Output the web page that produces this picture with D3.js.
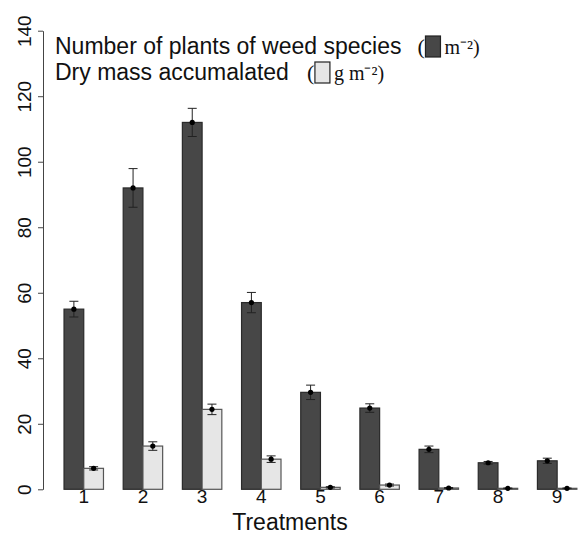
<!DOCTYPE html>
<html><head><meta charset="utf-8">
<script src="https://cdn.jsdelivr.net/npm/d3@7"></script>
<style>body{margin:0;background:#fff}svg{display:block}</style>
</head><body>
<script>
const treatments = ["1","2","3","4","5","6","7","8","9"];
const seriesNames = ["plants","dryMass"];
const plants = [55, 92, 112, 57, 29.6, 24.8, 12.2, 8.1, 8.7];
const plantsErr = [2.4, 5.9, 4.3, 3.1, 2.2, 1.3, 1.0, 0.4, 0.8];
const dryMass = [6.4, 13.2, 24.4, 9.2, 0.6, 1.3, 0.4, 0.3, 0.3];
const dryMassErr = [0.5, 1.3, 1.6, 1.0, 0.2, 0.3, 0.15, 0.1, 0.1];
const yTicks = [0, 20, 40, 60, 80, 100, 120, 140];
const legendLabels = ["Number of plants of weed species", "Dry mass accumalated"];
const legendUnits = ["m\u207B\u00B2)", "g m\u207B\u00B2)"];

const W = 578, H = 535;
const colors = {plants: "#474747", dryMass: "#e6e6e6"};
const strokes = {plants: "#2a2a2a", dryMass: "#555"};

const svg = d3.select("body").append("svg").attr("width", W).attr("height", H);

const x = d3.scaleBand().domain(treatments).range([44.3, 596.6]).paddingInner(1/3).paddingOuter(1/3);
const xs = d3.scaleBand().domain(seriesNames).range([0, x.bandwidth()]);
const y = d3.scaleLinear().domain([0, 140]).range([489.3, 30.7]);

const data = treatments.map((t, i) => ({
  t,
  vals: [
    {s: "plants", v: plants[i], e: plantsErr[i]},
    {s: "dryMass", v: dryMass[i], e: dryMassErr[i]}
  ]
}));

const g = svg.append("g");
const groups = g.selectAll("g.grp").data(data).join("g")
  .attr("transform", d => `translate(${x(d.t)},0)`);

groups.selectAll("rect").data(d => d.vals).join("rect")
  .attr("x", d => xs(d.s))
  .attr("y", d => y(d.v))
  .attr("width", xs.bandwidth())
  .attr("height", d => y(0) - y(d.v))
  .attr("fill", d => colors[d.s])
  .attr("stroke", d => strokes[d.s])
  .attr("stroke-width", 1.2);

// error bars
const eb = groups.selectAll("g.eb").data(d => d.vals).join("g")
  .attr("transform", d => `translate(${xs(d.s) + xs.bandwidth()/2},0)`);
eb.append("line").attr("y1", d => y(d.v + d.e)).attr("y2", d => y(d.v - d.e))
  .attr("stroke", "#222").attr("stroke-width", 1);
eb.append("line").attr("x1", -4.5).attr("x2", 4.5).attr("y1", d => y(d.v + d.e)).attr("y2", d => y(d.v + d.e))
  .attr("stroke", "#222").attr("stroke-width", 1);
eb.append("line").attr("x1", -4.5).attr("x2", 4.5).attr("y1", d => y(d.v - d.e)).attr("y2", d => y(d.v - d.e))
  .attr("stroke", "#222").attr("stroke-width", 1);
eb.append("circle").attr("cy", d => y(d.v)).attr("r", 2.6).attr("fill", "#000");

// y axis
const yAxis = d3.axisLeft(y).tickValues(yTicks).tickSize(5).tickSizeOuter(0);
const ya = svg.append("g").attr("transform", "translate(43,0)").call(yAxis);
ya.select(".domain").attr("stroke", "#444");
ya.selectAll(".tick line").attr("stroke", "#444");
ya.selectAll(".tick text")
  .attr("font-family", "Liberation Sans, Arial, sans-serif")
  .attr("font-size", 19).attr("fill", "#111")
  .attr("transform", "rotate(-90)")
  .attr("text-anchor", "middle")
  .attr("x", 0).attr("dx", 0).attr("dy", 0)
  .attr("y", -12);

// x tick labels (no axis line)
const xa = svg.append("g").attr("transform", `translate(0,489.3)`)
  .call(d3.axisBottom(x).tickSize(0));
xa.select(".domain").remove();
xa.selectAll(".tick text")
  .attr("font-family", "Liberation Sans, Arial, sans-serif")
  .attr("font-size", 19).attr("fill", "#111").attr("dy", 0).attr("y", 14);

svg.append("text").attr("x", 290).attr("y", 529.5).attr("text-anchor", "middle")
  .attr("font-family", "Liberation Sans, Arial, sans-serif").attr("font-size", 23).attr("fill", "#111")
  .text("Treatments");

// legend
const legY = [54, 80];
const leg = svg.append("g");
legendLabels.forEach((lab, i) => {
  const t = leg.append("text").attr("x", 55).attr("y", legY[i])
    .attr("font-family", "Liberation Sans, Arial, sans-serif").attr("font-size", 23).attr("fill", "#111")
    .text(lab);
  const w = t.node().getComputedTextLength();
  const px = 55 + w + (i === 0 ? 16 : 18);
  leg.append("text").attr("x", px).attr("y", legY[i])
    .attr("font-family", "Liberation Serif, Times New Roman, serif").attr("font-size", 22).attr("fill", "#111")
    .text("(");
  leg.append("rect").attr("x", px + 8).attr("y", legY[i] - 18).attr("width", 15).attr("height", 21)
    .attr("fill", colors[seriesNames[i]]).attr("stroke", "#222").attr("stroke-width", 1.2);
  leg.append("text").attr("x", px + 27).attr("y", legY[i])
    .attr("font-family", "Liberation Serif, Times New Roman, serif").attr("font-size", 20).attr("fill", "#111")
    .text(legendUnits[i]);
});
</script>
</body></html>
